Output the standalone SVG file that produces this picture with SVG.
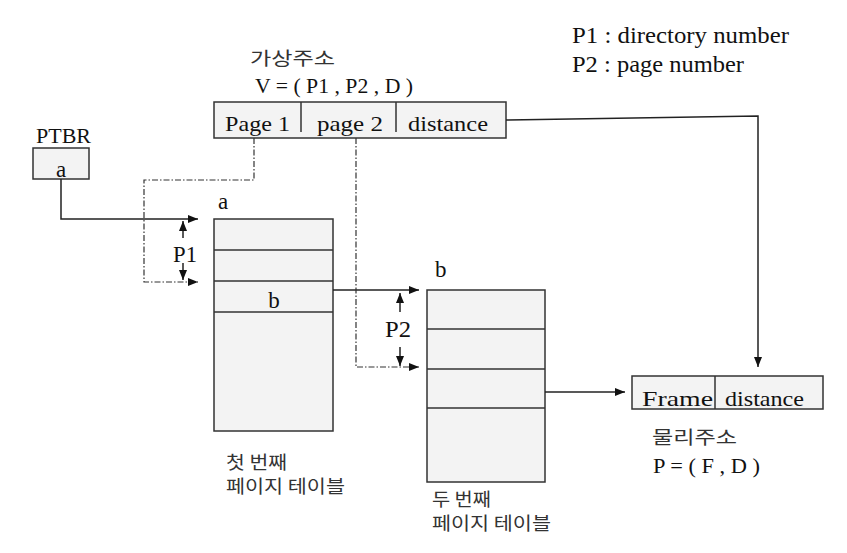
<svg xmlns="http://www.w3.org/2000/svg" width="847" height="553" viewBox="0 0 847 553">
<defs>
<marker id="ah" viewBox="0 0 10 10" refX="10" refY="5" markerWidth="10" markerHeight="10" markerUnits="userSpaceOnUse" orient="auto">
<path d="M0,1 L10,5 L0,9 z" fill="#111"/>
</marker>
</defs>
<style>
.box{fill:#f3f3f3;stroke:#333;stroke-width:1.5}
.div{stroke:#333;stroke-width:1.5}
.t{font-family:"Liberation Serif","Times New Roman",serif;font-size:21px;fill:#111}
.lb{font-size:23px}
.k{font-family:"Noto Sans CJK KR","Noto Sans",sans-serif;font-size:18px;fill:#333}
.ln{fill:none;stroke:#222;stroke-width:1.5}
.dd{fill:none;stroke:#333;stroke-width:1.2;stroke-dasharray:6 2 1.5 2}
</style>
<rect width="847" height="553" fill="#fff"/>
<g id="legend">
<text class="t" x="572" y="43" style="font-size:23px" textLength="217" lengthAdjust="spacingAndGlyphs">P1 : directory number</text>
<text class="t" x="572" y="72" style="font-size:23px" textLength="172" lengthAdjust="spacingAndGlyphs">P2 : page number</text>
</g>
<g id="virtual">
<text class="k" x="250" y="65" textLength="85" lengthAdjust="spacingAndGlyphs">가상주소</text>
<text class="t" x="255" y="93" textLength="158" lengthAdjust="spacingAndGlyphs">V = ( P1 , P2 , D )</text>
<rect class="box" x="214" y="102" width="292" height="36"/>
<line class="div" x1="301" y1="102" x2="301" y2="132"/>
<line class="div" x1="396" y1="102" x2="396" y2="132"/>
<text class="t" x="225" y="131" textLength="65" lengthAdjust="spacingAndGlyphs">Page 1</text>
<text class="t" x="317" y="131" textLength="66" lengthAdjust="spacingAndGlyphs">page 2</text>
<text class="t" x="408" y="131" textLength="80" lengthAdjust="spacingAndGlyphs">distance</text>
</g>
<g id="ptbr">
<text class="t" x="36" y="143" textLength="55" lengthAdjust="spacingAndGlyphs">PTBR</text>
<rect class="box" x="33" y="148" width="56" height="31"/>
<text class="t lb" x="61" y="177" text-anchor="middle">a</text>
</g>
<g id="table1">
<text class="t lb" x="218" y="209">a</text>
<rect class="box" x="214" y="219" width="119" height="212"/>
<line class="div" x1="214" y1="250" x2="333" y2="250"/>
<line class="div" x1="214" y1="281" x2="333" y2="281"/>
<line class="div" x1="214" y1="312" x2="333" y2="312"/>
<text class="t lb" x="274" y="308" text-anchor="middle">b</text>
<text class="k" x="226" y="469" textLength="61" lengthAdjust="spacingAndGlyphs">첫 번째</text>
<text class="k" x="226" y="493" textLength="119" lengthAdjust="spacingAndGlyphs">페이지 테이블</text>
</g>
<g id="table2">
<text class="t lb" x="435" y="277">b</text>
<rect class="box" x="427" y="290" width="118" height="192"/>
<line class="div" x1="427" y1="329" x2="545" y2="329"/>
<line class="div" x1="427" y1="369" x2="545" y2="369"/>
<line class="div" x1="427" y1="408" x2="545" y2="408"/>
<text class="k" x="432" y="506" textLength="59" lengthAdjust="spacingAndGlyphs">두 번째</text>
<text class="k" x="432" y="530" textLength="119" lengthAdjust="spacingAndGlyphs">페이지 테이블</text>
</g>
<g id="physical">
<rect class="box" x="632" y="376" width="191" height="33"/>
<line class="div" x1="715" y1="376" x2="715" y2="409"/>
<text class="t" x="642" y="406" textLength="71" lengthAdjust="spacingAndGlyphs">Frame</text>
<text class="t" x="725" y="406" textLength="79" lengthAdjust="spacingAndGlyphs">distance</text>
<text class="k" x="652" y="444" textLength="85" lengthAdjust="spacingAndGlyphs">물리주소</text>
<text class="t" x="653" y="473" textLength="107" lengthAdjust="spacingAndGlyphs">P = ( F , D )</text>
</g>
<g id="connectors">
<path class="ln" d="M61,179 V219 H198" marker-end="url(#ah)"/>
<path class="dd" d="M254,138 V180 H144 V282 H198" marker-end="url(#ah)"/>
<line class="ln" x1="183" y1="238" x2="183" y2="221" marker-end="url(#ah)"/>
<line class="ln" x1="183" y1="263" x2="183" y2="280" marker-end="url(#ah)"/>
<text class="t lb" x="173" y="262" textLength="24" lengthAdjust="spacingAndGlyphs">P1</text>
<path class="ln" d="M333,290 H419" marker-end="url(#ah)"/>
<path class="dd" d="M356,138 V367 H419" marker-end="url(#ah)"/>
<line class="ln" x1="400" y1="312" x2="400" y2="293" marker-end="url(#ah)"/>
<line class="ln" x1="400" y1="347" x2="400" y2="366" marker-end="url(#ah)"/>
<text class="t lb" x="385" y="337" textLength="26" lengthAdjust="spacingAndGlyphs">P2</text>
<path class="ln" d="M545,392 H625" marker-end="url(#ah)"/>
<path class="ln" d="M506,120 L758,116 V367" marker-end="url(#ah)"/>
</g>
</svg>
